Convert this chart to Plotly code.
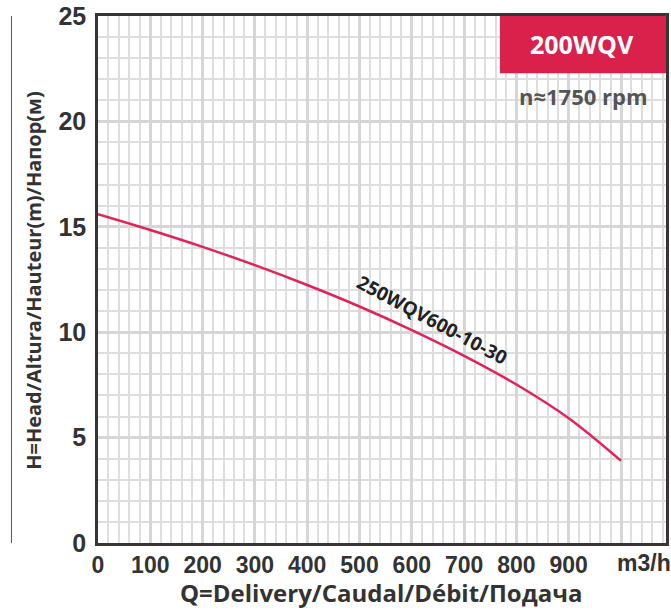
import plotly.graph_objects as go

# Data
flow_q = [0, 100, 200, 300, 400, 500, 600, 700, 800, 900, 1000]
head_h = [15.6, 14.85, 14.05, 13.18, 12.24, 11.22, 10.1, 8.88, 7.52, 5.92, 3.9]
curve_name = "250WQV600-10-30"
x_tick_vals = [0, 100, 200, 300, 400, 500, 600, 700, 800, 900, 1000]
x_tick_text = ["0", "100", "200", "300", "400", "500", "600", "700", "800", "900", ""]
y_tick_vals = [0, 5, 10, 15, 20, 25]
model_label = "200WQV"
speed_label = "n≈1750 rpm"
unit_label = "m3/h"
x_title = "Q=Delivery/Caudal/Débit/Подача"
y_title = "H=Head/Altura/Hauteur(m)/Напор(м)"

RED = "#d9214b"
DARK = "#333333"
TICKF = "Liberation Sans Narrow, Liberation Sans, Arial"
BOLD = "Open Sans, Noto Sans, Arial"

fig = go.Figure()
fig.add_trace(go.Scatter(
    x=flow_q, y=head_h, mode="lines",
    line=dict(color="#e0245a", width=2.5, shape="spline", smoothing=1.0),
    hoverinfo="skip", showlegend=False,
))

W, H = 671, 610
ml, mr, mt, mb = 98, 2, 13, 67

fig.update_layout(
    width=W, height=H,
    margin=dict(l=ml, r=mr, t=mt, b=mb),
    paper_bgcolor="white", plot_bgcolor="white",
    showlegend=False,
    xaxis=dict(
        range=[0, 1086], tickmode="array", tickvals=x_tick_vals, ticktext=x_tick_text,
        showgrid=True, gridcolor="#d6d6d6", gridwidth=3,
        minor=dict(dtick=20, tick0=0, showgrid=True, gridcolor="#dedede", gridwidth=1.5),
        zeroline=False, showline=True, linecolor="#3a3333", linewidth=2.5, mirror=True,
        ticks="", ticklabelstandoff=0, ticklabeloverflow="allow",
        tickfont=dict(family=TICKF, size=23, color=DARK, weight="bold"),
        fixedrange=True,
    ),
    yaxis=dict(
        range=[0, 25], tickmode="array", tickvals=y_tick_vals,
        showgrid=True, gridcolor="#d6d6d6", gridwidth=3,
        minor=dict(dtick=1, tick0=0, showgrid=True, gridcolor="#dedede", gridwidth=1.5),
        zeroline=False, showline=True, linecolor="#3a3333", linewidth=2.5, mirror=True,
        ticks="", ticklabelstandoff=4, ticklabeloverflow="allow",
        tickfont=dict(family=TICKF, size=25, color=DARK, weight="bold"),
        fixedrange=True,
    ),
)

pw = W - ml - mr
ph = H - mt - mb

def px_x(p):
    return (p - ml) / pw

def px_y(p):
    return (H - mb - p) / ph

def note(x, y, text, font, angle=0, xref="paper", yref="paper"):
    fig.add_annotation(xref=xref, yref=yref, x=x, y=y, text=text, showarrow=False,
                       xanchor="center", yanchor="middle", textangle=angle, font=font)

# red model box
fig.add_shape(type="rect", xref="paper", yref="paper",
              x0=px_x(502), x1=1, y0=px_y(70.5), y1=1,
              fillcolor=RED, line=dict(width=0), layer="above")
note(px_x(585), px_y(41), model_label,
     dict(family=BOLD, size=25, color="white", weight="bold"))
note(px_x(586), px_y(93), speed_label,
     dict(family=BOLD, size=22, color="#555555", weight="bold"))

# curve label
note(640, 10.6, curve_name, dict(family=BOLD, size=19, color="#222222", weight="bold"),
     angle=28, xref="x", yref="y")

# unit label
note(px_x(647), px_y(563), unit_label, dict(family=TICKF, size=23, color=DARK, weight="bold"))

# axis titles
note(px_x(382), px_y(593), x_title, dict(family=BOLD, size=24, color=DARK, weight="bold"))
note(px_x(33), px_y(279), y_title, dict(family=BOLD, size=20, color=DARK, weight="bold"),
     angle=-90)

# thin decorative line at left
fig.add_shape(type="line", xref="paper", yref="paper",
              x0=px_x(11), x1=px_x(11), y0=0, y1=1,
              line=dict(color="#555555", width=1))

fig.write_html("out.html", config={"displayModeBar": False},
               post_script="document.body.style.margin='0';document.body.style.overflow='hidden';")
